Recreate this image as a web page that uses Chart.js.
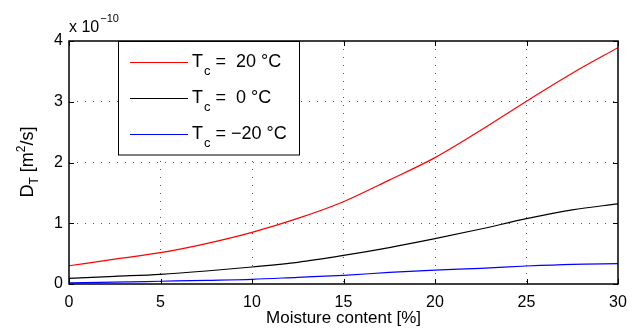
<!DOCTYPE html>
<html>
<head>
<meta charset="utf-8">
<script src="https://cdn.jsdelivr.net/npm/chart.js@4/dist/chart.umd.min.js"></script>
<style>
  html, body { margin: 0; padding: 0; background: #fff; }
  #wrap { width: 639px; height: 334px; }
</style>
</head>
<body>
<div id="wrap"><canvas id="chart"></canvas></div>
<script>
// moisture content [%]
const moisture = [0, 2.5, 5, 7.5, 10, 12.5, 15, 17.5, 20, 22.5, 25, 27.5, 30];
// D_T in units of 1e-10 m^2/s
const dtWarm = [0.30, 0.41, 0.515, 0.665, 0.85, 1.08, 1.355, 1.71, 2.08, 2.53, 3.01, 3.47, 3.89];
const dtZero = [0.094, 0.127, 0.16, 0.214, 0.28, 0.357, 0.47, 0.60, 0.746, 0.905, 1.075, 1.22, 1.32];
const dtCold = [0.02, 0.03, 0.045, 0.06, 0.077, 0.11, 0.143, 0.19, 0.23, 0.258, 0.296, 0.324, 0.334];
const seriesLabels = [' 20 °C', ' 0 °C', '\u221220 °C'];
const seriesColors = ['#ff0000', '#000000', '#0000ff'];
const xTicks = [0, 5, 10, 15, 20, 25, 30];
const yTicks = [0, 1, 2, 3, 4];

const FONT = '"Liberation Sans", Arial, Helvetica, sans-serif';

const toPoints = ys => moisture.map((x, i) => ({ x: x, y: ys[i] }));

// box, inward ticks, legend, y title and exponent note, MATLAB style
const matlabDecor = {
    id: 'matlabDecor',
    afterDraw(chart) {
        const { ctx, chartArea: a, scales } = chart;
        ctx.save();
        ctx.strokeStyle = '#000';
        ctx.lineWidth = 1;
        // inward ticks
        ctx.beginPath();
        xTicks.forEach(v => {
            const px = Math.round(scales.x.getPixelForValue(v)) + 0.5;
            ctx.moveTo(px, a.bottom); ctx.lineTo(px, a.bottom - 5);
            ctx.moveTo(px, a.top); ctx.lineTo(px, a.top + 5);
        });
        yTicks.forEach(v => {
            const py = Math.round(scales.y.getPixelForValue(v)) + 0.5;
            ctx.moveTo(a.left, py); ctx.lineTo(a.left + 5, py);
            ctx.moveTo(a.right, py); ctx.lineTo(a.right - 5, py);
        });
        ctx.stroke();
        // box
        ctx.lineWidth = 1.5;
        ctx.strokeRect(a.left, a.top, a.right - a.left, a.bottom - a.top);

        // legend
        const lx = 118.5, ly = 41.5, lw = 181, lh = 113.5;
        ctx.fillStyle = '#fff';
        ctx.fillRect(lx, ly, lw, lh);
        ctx.lineWidth = 1;
        ctx.strokeStyle = '#000';
        ctx.strokeRect(lx, ly, lw, lh);
        const rows = [62.5, 98.5, 134.5];
        chart.data.datasets.forEach((ds, i) => {
            const y = rows[i];
            ctx.strokeStyle = ds.borderColor;
            ctx.beginPath();
            ctx.moveTo(130, y); ctx.lineTo(188, y);
            ctx.stroke();
            ctx.fillStyle = '#000';
            ctx.textBaseline = 'alphabetic';
            ctx.textAlign = 'left';
            ctx.font = '18px ' + FONT;
            let x = 192;
            ctx.fillText('T', x, y + 4);
            x += ctx.measureText('T').width;
            ctx.font = '13px ' + FONT;
            ctx.fillText('c', x + 1, y + 12);
            x += ctx.measureText('c').width + 1;
            ctx.font = '18px ' + FONT;
            ctx.fillText(' = ' + ds.label, x, y + 4);
        });

        // y axis title: D_T [m^2/s]
        ctx.save();
        ctx.translate(33, 162);
        ctx.rotate(-Math.PI / 2);
        ctx.fillStyle = '#000';
        ctx.textAlign = 'left';
        const parts = [
            { t: 'D', f: 18, dy: 0 },
            { t: 'T', f: 12, dy: 5 },
            { t: ' [m', f: 18, dy: 0 },
            { t: '2', f: 12, dy: -8 },
            { t: '/s]', f: 18, dy: 0 }
        ];
        let total = 0;
        parts.forEach(p => { ctx.font = p.f + 'px ' + FONT; total += ctx.measureText(p.t).width; });
        let tx = -total / 2;
        parts.forEach(p => {
            ctx.font = p.f + 'px ' + FONT;
            ctx.fillText(p.t, tx, p.dy);
            tx += ctx.measureText(p.t).width;
        });
        ctx.restore();

        // exponent note
        ctx.fillStyle = '#000';
        ctx.textAlign = 'left';
        ctx.font = '16px ' + FONT;
        ctx.fillText('x 10', 69, 32);
        const w = ctx.measureText('x 10').width;
        ctx.font = '11px ' + FONT;
        ctx.fillText('\u221210', 69 + w + 1, 22);
        ctx.restore();
    }
};

new Chart(document.getElementById('chart').getContext('2d'), {
    type: 'line',
    data: {
        datasets: [
            { label: seriesLabels[0], data: toPoints(dtWarm), borderColor: seriesColors[0] },
            { label: seriesLabels[1], data: toPoints(dtZero), borderColor: seriesColors[1] },
            { label: seriesLabels[2], data: toPoints(dtCold), borderColor: seriesColors[2] }
        ].map(d => Object.assign(d, {
            borderWidth: 1.2,
            pointRadius: 0,
            fill: false,
            cubicInterpolationMode: 'monotone'
        }))
    },
    options: {
        responsive: true,
        maintainAspectRatio: false,
        animation: false,
        layout: { padding: { left: 0, top: 41, right: 21, bottom: 5 } },
        plugins: {
            legend: { display: false },
            tooltip: { enabled: false }
        },
        scales: {
            x: {
                type: 'linear',
                min: 0,
                max: 30,
                afterBuildTicks: s => { s.ticks = xTicks.map(v => ({ value: v })); },
                afterFit: s => { s.height = 45; },
                grid: {
                    drawTicks: false,
                    color: ctx => (ctx.tick.value === 0 || ctx.tick.value === 30) ? 'rgba(0,0,0,0)' : '#555',
                    lineWidth: 1
                },
                border: { display: false, dash: [1, 7] },
                ticks: {
                    color: '#000',
                    font: { family: FONT, size: 16 },
                    padding: 9
                },
                title: {
                    display: true,
                    text: 'Moisture content [%]',
                    color: '#000',
                    font: { family: FONT, size: 17 },
                    padding: { top: 0, bottom: 0 }
                }
            },
            y: {
                min: 0,
                max: 4,
                afterBuildTicks: s => { s.ticks = yTicks.map(v => ({ value: v })); },
                afterFit: s => { s.width = 69; },
                grid: {
                    drawTicks: false,
                    color: ctx => (ctx.tick.value === 0 || ctx.tick.value === 4) ? 'rgba(0,0,0,0)' : '#555',
                    lineWidth: 1
                },
                border: { display: false, dash: [1, 7] },
                ticks: {
                    color: '#000',
                    font: { family: FONT, size: 16 },
                    padding: 6
                }
            }
        }
    },
    plugins: [matlabDecor]
});
</script>
</body>
</html>
